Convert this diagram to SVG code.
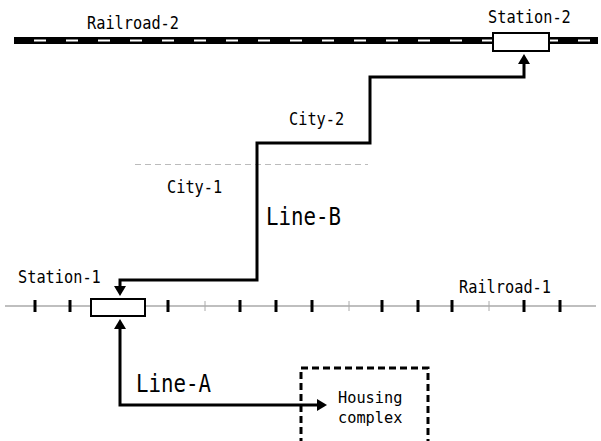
<svg xmlns="http://www.w3.org/2000/svg" width="601" height="441" viewBox="0 0 601 441">
<style>
.lbl{font-family:"DejaVu Sans Mono","Liberation Mono",monospace;font-size:17px;fill:#000}
.sm{font-family:"DejaVu Sans Mono","Liberation Mono",monospace;font-size:15.5px;fill:#000}
.big{font-family:"DejaVu Sans Mono","Liberation Mono",monospace;font-size:25px;fill:#000}
.tick{stroke:#000;stroke-width:3}
.thin{stroke:#aaa;stroke-width:1}
.route{fill:none;stroke:#000;stroke-width:3}
.station{fill:#fff;stroke:#000;stroke-width:2}
</style>
<defs>
<marker id="ah" viewBox="0 0 10 12" refX="0" refY="6" markerWidth="10" markerHeight="12" markerUnits="userSpaceOnUse" orient="auto-start-reverse">
<path d="M0,0 L10,6 L0,12 z" fill="#000"/>
</marker>
</defs>
<rect width="601" height="441" fill="#fff"/>

<g id="railroad-2">
<line x1="14" y1="40.5" x2="598" y2="40.5" stroke="#000" stroke-width="7"/>
<line x1="34" y1="40.5" x2="598" y2="40.5" stroke="#fff" stroke-width="2" stroke-dasharray="12 20"/>
<text class="lbl" x="87" y="29" textLength="92" lengthAdjust="spacingAndGlyphs">Railroad-2</text>
</g>

<g id="railroad-1">
<line x1="5" y1="306" x2="596" y2="306" stroke="#aaa" stroke-width="1.5"/>
<line class="tick" x1="35" y1="300" x2="35" y2="312"/>
<line class="tick" x1="70" y1="300" x2="70" y2="312"/>
<line class="tick" x1="168" y1="300" x2="168" y2="312"/>
<line class="thin" x1="205" y1="301" x2="205" y2="311"/>
<line class="tick" x1="240" y1="300" x2="240" y2="312"/>
<line class="tick" x1="276" y1="300" x2="276" y2="312"/>
<line class="tick" x1="312" y1="300" x2="312" y2="312"/>
<line class="thin" x1="349" y1="301" x2="349" y2="311"/>
<line class="tick" x1="382" y1="300" x2="382" y2="312"/>
<line class="tick" x1="418" y1="300" x2="418" y2="312"/>
<line class="tick" x1="452" y1="300" x2="452" y2="312"/>
<line class="thin" x1="489" y1="301" x2="489" y2="311"/>
<line class="tick" x1="524" y1="300" x2="524" y2="312"/>
<line class="tick" x1="560" y1="300" x2="560" y2="312"/>
<text class="lbl" x="459" y="293" textLength="92" lengthAdjust="spacingAndGlyphs">Railroad-1</text>
</g>

<g id="city-boundary">
<line x1="135" y1="164.5" x2="368" y2="164.5" stroke="#bbb" stroke-width="1" stroke-dasharray="6 4"/>
<text class="lbl" x="167" y="193" textLength="55.2" lengthAdjust="spacingAndGlyphs">City-1</text>
<text class="lbl" x="289" y="125" textLength="55.2" lengthAdjust="spacingAndGlyphs">City-2</text>
</g>

<g id="station-2">
<rect class="station" x="493" y="33" width="56" height="18"/>
<text class="lbl" x="488" y="23" textLength="82.8" lengthAdjust="spacingAndGlyphs">Station-2</text>
</g>

<g id="station-1">
<rect class="station" x="91" y="299" width="54" height="17"/>
<text class="lbl" x="18" y="283" textLength="82.8" lengthAdjust="spacingAndGlyphs">Station-1</text>
</g>

<g id="housing-complex">
<path d="M301,445 L301,368 L428,368 L428,445" fill="none" stroke="#000" stroke-width="3" stroke-dasharray="7 4"/>
<text class="sm" x="338" y="403" textLength="64.4" lengthAdjust="spacingAndGlyphs">Housing</text>
<text class="sm" x="338" y="423" textLength="64.4" lengthAdjust="spacingAndGlyphs">complex</text>
</g>

<g id="connectors">
<path id="line-b" class="route" d="M120,286 L120,280 L257,280 L257,143 L370,143 L370,77 L524,77 L524,64" marker-start="url(#ah)" marker-end="url(#ah)"/>
<path id="line-a" class="route" d="M120,329 L120,405 L317,405" marker-start="url(#ah)" marker-end="url(#ah)"/>
<text class="big" x="266" y="225" textLength="75" lengthAdjust="spacingAndGlyphs">Line-B</text>
<text class="big" x="136" y="392" textLength="75" lengthAdjust="spacingAndGlyphs">Line-A</text>
</g>
</svg>
